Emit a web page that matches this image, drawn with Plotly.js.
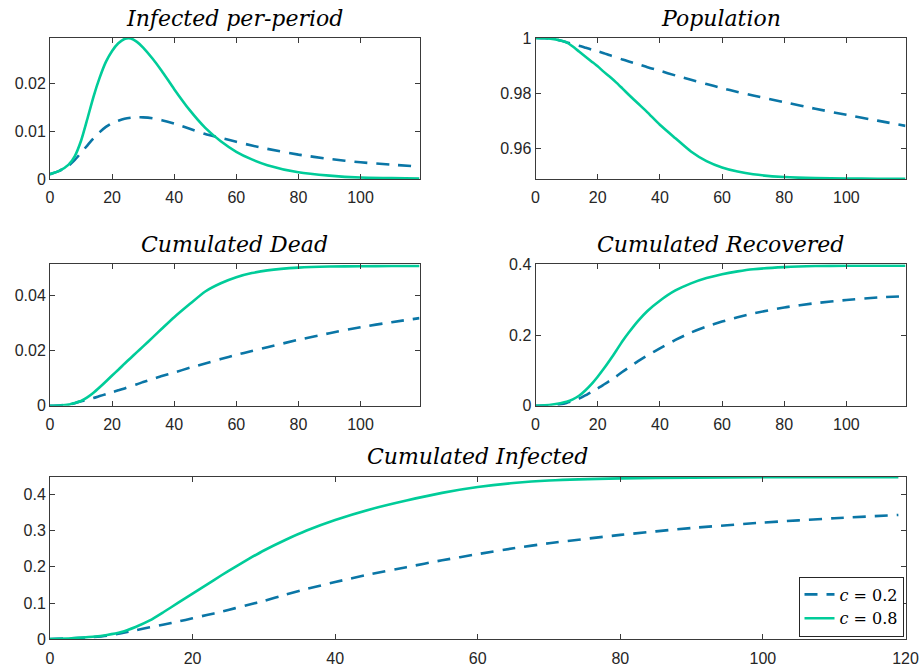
<!DOCTYPE html>
<html>
<head>
<meta charset="utf-8">
<script src="https://cdn.plot.ly/plotly-3.0.1.min.js"></script>
<style>html,body{margin:0;padding:0;background:#fff;}#chart{width:922px;height:668px;}</style>
</head>
<body>
<div id="chart"></div>
<script>
// Periods (x values)
const days = [0,3,6,8,10,12,14,16,18,20,22,24,26,28,30,33,36,40,45,50,55,60,65,70,80,90,100,110,119];

// Infected per-period
const infected_c02 = [0.0010,0.0017,0.0028,0.0040,0.0055,0.0070,0.0085,0.0098,0.0109,0.0117,0.0122,0.0126,0.0128,0.0129,0.0129,0.0127,0.0123,0.0116,0.0105,0.0094,0.0086,0.0078,0.0070,0.0063,0.0051,0.0042,0.0035,0.0030,0.0026];
const infected_c08 = [0.0010,0.0017,0.0030,0.0048,0.0080,0.0125,0.0172,0.0212,0.0245,0.0268,0.0284,0.0293,0.0294,0.0287,0.0275,0.0252,0.0226,0.0188,0.0144,0.0107,0.0079,0.0057,0.0041,0.0029,0.0014,0.0007,0.0003,0.0002,0.0001];

// Population
const population_c02 = [1.0000,0.9999,0.9996,0.9991,0.9984,0.9978,0.9972,0.9965,0.9958,0.9952,0.9945,0.9937,0.9930,0.9922,0.9915,0.9905,0.9894,0.9881,0.9864,0.9848,0.9833,0.9818,0.9804,0.9791,0.9767,0.9743,0.9721,0.9700,0.9681];
const population_c08 = [1.0000,0.9999,0.9996,0.9991,0.9984,0.9969,0.9951,0.9933,0.9915,0.9897,0.9877,0.9858,0.9838,0.9816,0.9794,0.9762,0.9730,0.9685,0.9636,0.9588,0.9553,0.9530,0.9515,0.9505,0.9495,0.9491,0.9490,0.9489,0.9489];

// Cumulated Dead
const dead_c02 = [0,0.0001,0.0004,0.0009,0.0016,0.0022,0.0028,0.0035,0.0042,0.0049,0.0056,0.0063,0.0071,0.0078,0.0086,0.0097,0.0108,0.0121,0.0138,0.0154,0.0170,0.0185,0.0199,0.0213,0.0240,0.0264,0.0286,0.0304,0.0319];
const dead_c08 = [0,0.0001,0.0004,0.0010,0.0017,0.0030,0.0047,0.0067,0.0088,0.0110,0.0131,0.0153,0.0174,0.0195,0.0216,0.0248,0.0280,0.0322,0.0370,0.0416,0.0446,0.0468,0.0483,0.0493,0.0503,0.0507,0.0508,0.0509,0.0509];

// Cumulated Recovered
const recovered_c02 = [0,0.0006,0.002,0.0045,0.008,0.013,0.020,0.029,0.039,0.049,0.060,0.071,0.083,0.096,0.108,0.126,0.142,0.162,0.186,0.207,0.224,0.238,0.250,0.261,0.278,0.290,0.299,0.306,0.310];
const recovered_c08 = [0,0.0010,0.0040,0.0070,0.0110,0.018,0.028,0.043,0.061,0.082,0.105,0.130,0.156,0.183,0.207,0.240,0.268,0.297,0.326,0.346,0.361,0.372,0.380,0.386,0.392,0.395,0.396,0.396,0.396];

// Cumulated Infected
const cuminf_c02 = [0.001,0.003,0.006,0.010,0.017,0.025,0.033,0.041,0.049,0.058,0.067,0.076,0.086,0.096,0.106,0.123,0.139,0.158,0.180,0.199,0.218,0.235,0.251,0.265,0.288,0.307,0.322,0.334,0.343];
const cuminf_c08 = [0.001,0.003,0.007,0.012,0.020,0.034,0.052,0.076,0.101,0.126,0.151,0.176,0.200,0.223,0.245,0.274,0.300,0.329,0.359,0.383,0.404,0.420,0.431,0.438,0.444,0.446,0.447,0.447,0.447];

// Titles, legend names, ticks
const panelTitles = ["Infected per-period","Population","Cumulated Dead","Cumulated Recovered","Cumulated Infected"];
const seriesNames = ["<i>c</i> = 0.2","<i>c</i> = 0.8"];
const xTicksSmall = [0,20,40,60,80,100];
const xTicksBig = [0,20,40,60,80,100,120];
const yTicks1 = [0,0.01,0.02];      const yText1 = ["0","0.01","0.02"];
const yTicks2 = [0.96,0.98,1];      const yText2 = ["0.96","0.98","1"];
const yTicks3 = [0,0.02,0.04];      const yText3 = ["0","0.02","0.04"];
const yTicks4 = [0,0.2,0.4];        const yText4 = ["0","0.2","0.4"];
const yTicks5 = [0,0.1,0.2,0.3,0.4]; const yText5 = ["0","0.1","0.2","0.3","0.4"];

const BLUE = '#0a76a6';
const GREEN = '#00cc99';
const AX = '#3a3a3a';

function pair(y02, y08, xa, ya, show) {
  return [
    {x: days, y: y02, xaxis: xa, yaxis: ya, type: 'scatter', mode: 'lines', name: seriesNames[0],
     line: {color: BLUE, width: 2.6, dash: '13px,9px', shape: 'spline', smoothing: 0.6},
     showlegend: show, legendgroup: 'a', hoverinfo: 'skip'},
    {x: days, y: y08, xaxis: xa, yaxis: ya, type: 'scatter', mode: 'lines', name: seriesNames[1],
     line: {color: GREEN, width: 2.6, shape: 'spline', smoothing: 0.6},
     showlegend: show, legendgroup: 'b', hoverinfo: 'skip'}
  ];
}

const data = [].concat(
  pair(infected_c02, infected_c08, 'x', 'y', false),
  pair(population_c02, population_c08, 'x2', 'y2', false),
  pair(dead_c02, dead_c08, 'x3', 'y3', false),
  pair(recovered_c02, recovered_c08, 'x4', 'y4', false),
  pair(cuminf_c02, cuminf_c08, 'x5', 'y5', true)
);

const tickFont = {family: 'Liberation Sans, Arial, sans-serif', size: 16, color: '#262626'};
function xax(dom, range, ticks, anchor) {
  return {domain: dom, range: range, anchor: anchor, tickvals: ticks, ticktext: ticks.map(String),
    showline: true, linecolor: AX, linewidth: 1, mirror: 'ticks', ticks: 'inside', ticklen: 5,
    tickcolor: AX, tickfont: tickFont, ticklabelstandoff: 4, showgrid: false, zeroline: false, fixedrange: true};
}
function yax(dom, range, ticks, text, anchor) {
  return {domain: dom, range: range, anchor: anchor, tickvals: ticks, ticktext: text,
    showline: true, linecolor: AX, linewidth: 1, mirror: 'ticks', ticks: 'inside', ticklen: 5,
    tickcolor: AX, tickfont: tickFont, showgrid: false, zeroline: false, fixedrange: true};
}

const W = 922, H = 668;
const L1 = [50/W, 419.5/W], R1 = [535.5/W, 905.5/W], FULL = [50/W, 905.5/W];
const row1 = [1-179/H, 1-38/H], row2 = [1-405.7/H, 1-264.3/H], row3 = [1-639.3/H, 1-476.7/H];

const titleFont = {family: 'DejaVu Serif, Liberation Serif, serif', size: 22, color: '#000'};
const titlePos = [
  {x: (L1[0]+L1[1])/2, y: 1-18/H},
  {x: (R1[0]+R1[1])/2, y: 1-18/H},
  {x: (L1[0]+L1[1])/2, y: 1-245/H},
  {x: (R1[0]+R1[1])/2, y: 1-245/H},
  {x: (FULL[0]+FULL[1])/2, y: 1-456/H}
];
const annotations = panelTitles.map((t, i) => ({
  text: '<i>' + t + '</i>', xref: 'paper', yref: 'paper', x: titlePos[i].x, y: titlePos[i].y,
  xanchor: 'center', yanchor: 'middle', showarrow: false, font: titleFont
}));

const layout = {
  width: W, height: H, margin: {l: 0, r: 0, t: 0, b: 0},
  paper_bgcolor: '#fff', plot_bgcolor: '#fff',
  xaxis: xax(L1, [0,119], xTicksSmall, 'y'),
  yaxis: yax(row1, [0,0.0295], yTicks1, yText1, 'x'),
  xaxis2: xax(R1, [0,119], xTicksSmall, 'y2'),
  yaxis2: yax(row1, [0.9488,1], yTicks2, yText2, 'x2'),
  xaxis3: xax(L1, [0,119], xTicksSmall, 'y3'),
  yaxis3: yax(row2, [0,0.0515], yTicks3, yText3, 'x3'),
  xaxis4: xax(R1, [0,119], xTicksSmall, 'y4'),
  yaxis4: yax(row2, [0,0.4], yTicks4, yText4, 'x4'),
  xaxis5: xax(FULL, [0,120], xTicksBig, 'y5'),
  yaxis5: yax(row3, [0,0.4486], yTicks5, yText5, 'x5'),
  annotations: annotations,
  showlegend: true,
  legend: {x: 903.5/W, y: 1-636.5/H, xanchor: 'right', yanchor: 'bottom',
    bgcolor: '#fff', bordercolor: '#262626', borderwidth: 1,
    font: {family: 'DejaVu Serif, Liberation Serif, serif', size: 16, color: '#000'},
    tracegroupgap: 0, itemwidth: 30}
};

Plotly.newPlot('chart', data, layout, {displayModeBar: false, staticPlot: true});
</script>
</body>
</html>
